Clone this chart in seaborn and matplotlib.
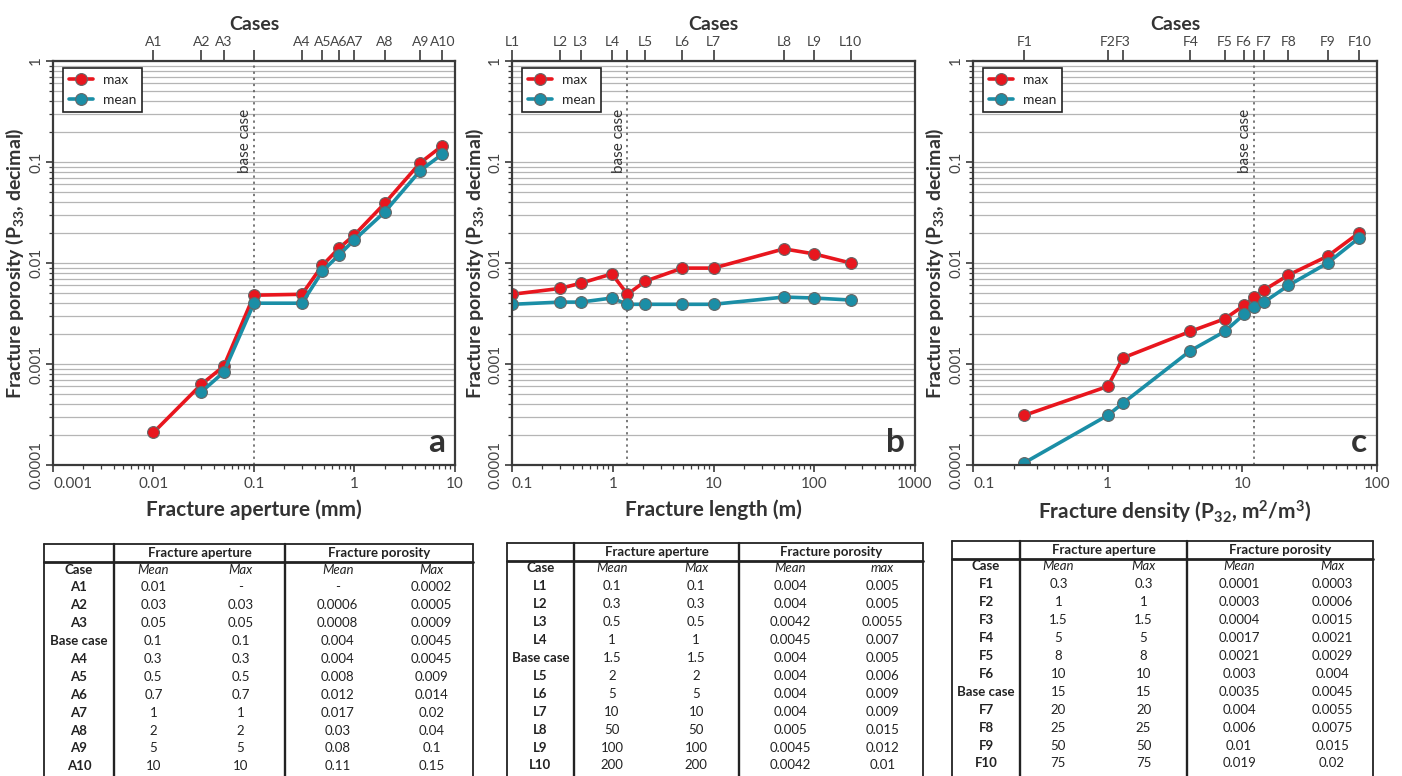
import numpy as np
import pandas as pd
import matplotlib
matplotlib.use("Agg")
import matplotlib.pyplot as plt
import seaborn as sns
from matplotlib.ticker import FixedLocator, LogLocator, NullFormatter

sns.set_style("ticks")
plt.rcParams['font.family'] = ['Lato', 'DejaVu Sans']
plt.rcParams['mathtext.default'] = 'regular'

RED = '#e8161e'
TEAL = '#1b8ea6'
INK = '#3a3a3a'

# ---------------- chart data ----------------
# panel a: aperture
a_cases = ['A1', 'A2', 'A3', '', 'A4', 'A5', 'A6', 'A7', 'A8', 'A9', 'A10']
a_x = [0.01, 0.03, 0.05, 0.1, 0.3, 0.48, 0.7, 1.0, 2.0, 4.5, 7.5]
a_max = [0.00021, 0.00063, 0.00095, 0.0048, 0.0049, 0.0095, 0.014, 0.019, 0.039, 0.098, 0.145]
a_mean = [np.nan, 0.00053, 0.00083, 0.0040, 0.0040, 0.0083, 0.012, 0.017, 0.032, 0.082, 0.12]
a_base = 0.1

# panel b: length
b_cases = ['L1', 'L2', 'L3', 'L4', '', 'L5', 'L6', 'L7', 'L8', 'L9', 'L10']
b_x = [0.1, 0.3, 0.48, 0.98, 1.4, 2.1, 4.9, 10, 50, 100, 230]
b_max = [0.0049, 0.0056, 0.0063, 0.0078, 0.0049, 0.0066, 0.0089, 0.0089, 0.0138, 0.0123, 0.010]
b_mean = [0.0039, 0.0041, 0.0041, 0.0045, 0.0039, 0.0039, 0.0039, 0.0039, 0.0046, 0.0045, 0.0043]
b_base = 1.4

# panel c: density
c_cases = ['F1', 'F2', 'F3', 'F4', 'F5', 'F6', '', 'F7', 'F8', 'F9', 'F10']
c_x = [0.24, 1.0, 1.3, 4.1, 7.4, 10.3, 12.3, 14.5, 22, 43, 74]
c_max = [0.00031, 0.0006, 0.00115, 0.0021, 0.0028, 0.0038, 0.0046, 0.0054, 0.0076, 0.0117, 0.020]
c_mean = [0.000105, 0.00031, 0.00041, 0.00135, 0.0021, 0.0031, 0.0037, 0.0041, 0.006, 0.0100, 0.0178]
c_base = 12.3

# ---------------- table data ----------------
ta_case = ['A1', 'A2', 'A3', 'Base case', 'A4', 'A5', 'A6', 'A7', 'A8', 'A9', 'A10']
ta_ap_mean = ['0.01', '0.03', '0.05', '0.1', '0.3', '0.5', '0.7', '1', '2', '5', '10']
ta_ap_max = ['-', '0.03', '0.05', '0.1', '0.3', '0.5', '0.7', '1', '2', '5', '10']
ta_por_mean = ['-', '0.0006', '0.0008', '0.004', '0.004', '0.008', '0.012', '0.017', '0.03', '0.08', '0.11']
ta_por_max = ['0.0002', '0.0005', '0.0009', '0.0045', '0.0045', '0.009', '0.014', '0.02', '0.04', '0.1', '0.15']

tb_case = ['L1', 'L2', 'L3', 'L4', 'Base case', 'L5', 'L6', 'L7', 'L8', 'L9', 'L10']
tb_ap_mean = ['0.1', '0.3', '0.5', '1', '1.5', '2', '5', '10', '50', '100', '200']
tb_ap_max = ['0.1', '0.3', '0.5', '1', '1.5', '2', '5', '10', '50', '100', '200']
tb_por_mean = ['0.004', '0.004', '0.0042', '0.0045', '0.004', '0.004', '0.004', '0.004', '0.005', '0.0045', '0.0042']
tb_por_max = ['0.005', '0.005', '0.0055', '0.007', '0.005', '0.006', '0.009', '0.009', '0.015', '0.012', '0.01']

tc_case = ['F1', 'F2', 'F3', 'F4', 'F5', 'F6', 'Base case', 'F7', 'F8', 'F9', 'F10']
tc_ap_mean = ['0.3', '1', '1.5', '5', '8', '10', '15', '20', '25', '50', '75']
tc_ap_max = ['0.3', '1', '1.5', '5', '8', '10', '15', '20', '25', '50', '75']
tc_por_mean = ['0.0001', '0.0003', '0.0004', '0.0017', '0.0021', '0.003', '0.0035', '0.004', '0.006', '0.01', '0.019']
tc_por_max = ['0.0003', '0.0006', '0.0015', '0.0021', '0.0029', '0.004', '0.0045', '0.0055', '0.0075', '0.015', '0.02']

W, H = 1402, 776
fig = plt.figure(figsize=(W / 100, H / 100), dpi=100)


def px_axes(x0, x1, y0, y1):
    return fig.add_axes([x0 / W, 1 - y1 / H, (x1 - x0) / W, (y1 - y0) / H])


def draw_panel(ax, x, ymax, ymean, cases, base, xlim, xticks, xlabel, letter):
    df = pd.DataFrame({'x': list(x) * 2, 'p': list(ymax) + list(ymean),
                       'series': ['max'] * len(x) + ['mean'] * len(x)}).dropna()
    sns.lineplot(data=df, x='x', y='p', hue='series', hue_order=['max', 'mean'],
                 palette={'max': RED, 'mean': TEAL}, marker='o', markersize=8.5,
                 markeredgecolor='#666666', markeredgewidth=0.8, linewidth=2.6,
                 estimator=None, sort=False, ax=ax)
    ax.set_xscale('log')
    ax.set_yscale('log')
    ax.set_xlim(*xlim)
    ax.set_ylim(1e-4, 1)
    ax.xaxis.set_major_locator(FixedLocator(xticks))
    ax.set_xticklabels([f'{t:g}' for t in xticks])
    ax.get_xticklabels()[0].set_ha('left')
    ax.xaxis.set_minor_locator(LogLocator(base=10, subs=np.arange(2, 10)))
    ax.xaxis.set_minor_formatter(NullFormatter())
    yt = [1e-4, 1e-3, 1e-2, 1e-1, 1]
    ax.yaxis.set_major_locator(FixedLocator(yt))
    ax.set_yticklabels(['0.0001', '0.001', '0.01', '0.1', '1'], rotation=90, va='center')
    ax.yaxis.set_minor_locator(LogLocator(base=10, subs=np.arange(2, 10)))
    ax.yaxis.set_minor_formatter(NullFormatter())
    ax.grid(True, which='both', axis='y', color='#b5b5b5', lw=0.9)
    ax.tick_params(which='major', length=5, width=1.2, colors=INK, labelsize=11, labelcolor='#444444')
    ax.tick_params(which='minor', length=3, width=0.9, colors=INK)
    ax.tick_params(axis='y', pad=2)
    for s in ax.spines.values():
        s.set_visible(True)
        s.set_color(INK)
        s.set_linewidth(1.6)
    ax.set_xlabel(xlabel, fontsize=15, weight='bold', color='#333333', labelpad=6)
    ax.set_ylabel('Fracture porosity (P$_{33}$, decimal)', fontsize=14, weight='bold',
                  color='#333333', labelpad=2)

    ax.axvline(base, ls=(0, (1.5, 2.5)), color='#555555', lw=1.1, zorder=1.8)
    ax.text(base / 1.04, 0.078, 'base case', rotation=90, ha='right', va='bottom',
            fontsize=11, color='#333333')
    ax.text(0.975, 0.02, letter, transform=ax.transAxes, ha='right', va='bottom',
            fontsize=24, weight='bold', color='#333333')

    sns.move_legend(ax, 'upper left', title=None, frameon=True, fontsize=10,
                    bbox_to_anchor=(0.025, 0.983), borderaxespad=0, handlelength=1.7,
                    handletextpad=0.7, borderpad=0.45, labelspacing=0.55)
    leg = ax.get_legend()
    leg.get_frame().set_edgecolor('#222222')
    leg.get_frame().set_linewidth(1.2)
    leg.get_frame().set_boxstyle('square', pad=0)
    leg.get_frame().set_alpha(1)

    top = ax.twiny()
    top.set_xscale('log')
    top.set_xlim(*xlim)
    top.xaxis.set_major_locator(FixedLocator(x))
    top.set_xticklabels(cases)
    top.xaxis.set_minor_locator(FixedLocator([]))
    top.tick_params(axis='x', length=8, width=1.2, colors=INK, labelsize=10,
                    labelcolor='#444444', pad=1)
    for s in top.spines.values():
        s.set_visible(False)
    top.set_xlabel('Cases', fontsize=14, weight='bold', color='#333333', labelpad=5)


ax_a = px_axes(53, 455, 61, 465)
draw_panel(ax_a, a_x, a_max, a_mean, a_cases, a_base, (1e-3, 10),
           [0.001, 0.01, 0.1, 1, 10], 'Fracture aperture (mm)', 'a')
ax_b = px_axes(512, 915, 61, 465)
draw_panel(ax_b, b_x, b_max, b_mean, b_cases, b_base, (0.1, 1000),
           [0.1, 1, 10, 100, 1000], 'Fracture length (m)', 'b')
ax_c = px_axes(973, 1377, 61, 465)
draw_panel(ax_c, c_x, c_max, c_mean, c_cases, c_base, (0.1, 100),
           [0.1, 1, 10, 100], 'Fracture density (P$_{32}$, m$^{2}$/m$^{3}$)', 'c')

# ---------------- tables ----------------
tax = fig.add_axes([0, 0, 1, 1])
tax.set_xlim(0, W)
tax.set_ylim(H, 0)
tax.axis('off')


def draw_table(x0, x1, xb1, xb2, top, hline, cols, last_hdr):
    lc = '#222222'
    for xv, lw in [(x0, 1.3), (xb1, 1.7), (xb2, 1.7), (x1, 1.3)]:
        tax.plot([xv, xv], [top, H + 5], color=lc, lw=lw)
    tax.plot([x0, x1], [top, top], color=lc, lw=1.3)
    tax.plot([x0, x1], [hline, hline], color=lc, lw=2.0)
    hy = (top + hline) / 2
    tax.text((xb1 + xb2) / 2, hy, 'Fracture aperture', ha='center', va='center',
             fontsize=9.5, weight='bold', color='#222222')
    tax.text((xb2 + x1) / 2, hy, 'Fracture porosity', ha='center', va='center',
             fontsize=9.5, weight='bold', color='#222222')
    cx = [(x0 + xb1) / 2,
          xb1 + 0.23 * (xb2 - xb1), xb1 + 0.74 * (xb2 - xb1),
          xb2 + 0.28 * (x1 - xb2), xb2 + 0.78 * (x1 - xb2)]
    hdr = ['Case', 'Mean', 'Max', 'Mean', last_hdr]
    row_h = 17.9
    y0 = hline + 7.5
    for j, h in enumerate(hdr):
        tax.text(cx[j], y0, h, ha='center', va='center', fontsize=9.5, color='#222222',
                 weight='bold' if j == 0 else 'normal', style='normal' if j == 0 else 'italic')
    for i in range(len(cols[0])):
        yy = y0 + row_h * (i + 1)
        for j, col in enumerate(cols):
            tax.text(cx[j], yy, col[i], ha='center', va='center', fontsize=9.5,
                     color='#222222', weight='bold' if j == 0 else 'normal')


draw_table(44, 473, 114, 285, 544, 562,
           [ta_case, ta_ap_mean, ta_ap_max, ta_por_mean, ta_por_max], 'Max')
draw_table(507, 923, 574, 739, 543, 561,
           [tb_case, tb_ap_mean, tb_ap_max, tb_por_mean, tb_por_max], 'max')
draw_table(952, 1373, 1020, 1187, 541, 559,
           [tc_case, tc_ap_mean, tc_ap_max, tc_por_mean, tc_por_max], 'Max')

fig.savefig('out.png', dpi=100)
